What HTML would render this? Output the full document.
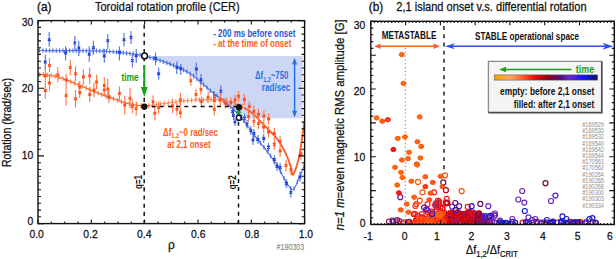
<!DOCTYPE html>
<html><head><meta charset="utf-8"><style>
html,body{margin:0;padding:0;background:#fff;width:616px;height:259px;overflow:hidden}
svg{display:block}
text{font-family:"Liberation Sans",sans-serif}
</style></head><body>
<svg fill="#111" width="616" height="259" viewBox="0 0 616 259">
<text transform="translate(37,11.4) scale(0.9,1)" font-size="13.2" stroke="#111" stroke-width="0.35">(a)</text>
<text transform="translate(95,11) scale(0.915,1)" font-size="12" stroke="#111" stroke-width="0.25">Toroidal rotation profile (CER)</text>
<polygon fill="#cdd7f5" points="144.50,56.00 302.50,56.00 302.50,118.30 241.80,118.30 241.40,117.99 239.56,115.89 237.69,113.84 235.83,111.87 234.00,110.00 232.19,108.24 230.39,106.58 228.59,104.99 226.80,103.46 225.00,101.97 223.20,100.50 221.41,99.10 219.64,97.78 217.86,96.51 216.07,95.22 214.26,93.87 212.40,92.40 210.48,90.78 208.50,89.03 206.49,87.22 204.48,85.40 202.51,83.64 200.60,82.00 198.80,80.47 197.10,79.00 195.44,77.59 193.74,76.23 191.95,74.90 190.00,73.60 187.89,72.33 185.66,71.10 183.34,69.90 180.94,68.74 178.49,67.60 176.00,66.50 173.44,65.42 170.80,64.36 168.09,63.34 165.37,62.35 162.66,61.40 160.00,60.50 157.38,59.64 154.76,58.81 152.16,58.03 149.57,57.30 147.02,56.62"/>
<path d="M38.00,50.50 L40.30,50.51 L43.41,50.52 L47.12,50.54 L51.26,50.56 L55.62,50.58 L60.00,50.60 L64.65,50.62 L69.78,50.64 L75.12,50.66 L80.44,50.69 L85.49,50.74 L90.00,50.80 L93.91,50.87 L97.41,50.95 L100.62,51.04 L103.70,51.15 L106.78,51.30 L110.00,51.50 L113.40,51.75 L116.87,52.05 L120.34,52.39 L123.74,52.75 L126.98,53.12 L130.00,53.50 L132.72,53.86 L135.20,54.22 L137.53,54.59 L139.80,55.00 L142.09,55.46 L144.50,56.00 L147.02,56.62 L149.57,57.30 L152.16,58.03 L154.76,58.81 L157.38,59.64 L160.00,60.50 L162.66,61.40 L165.37,62.35 L168.09,63.34 L170.80,64.36 L173.44,65.42 L176.00,66.50 L178.49,67.60 L180.94,68.74 L183.34,69.90 L185.66,71.10 L187.89,72.33 L190.00,73.60 L191.95,74.90 L193.74,76.23 L195.44,77.59 L197.10,79.00 L198.80,80.47 L200.60,82.00 L202.51,83.64 L204.48,85.40 L206.49,87.22 L208.50,89.03 L210.48,90.78 L212.40,92.40 L214.26,93.87 L216.07,95.22 L217.86,96.51 L219.64,97.78 L221.41,99.10 L223.20,100.50 L225.00,101.97 L226.80,103.46 L228.59,104.99 L230.39,106.58 L232.19,108.24 L234.00,110.00 L235.83,111.87 L237.69,113.84 L239.56,115.89 L241.40,117.99 L243.19,120.10 L244.90,122.20 L246.47,124.25 L247.89,126.26 L249.26,128.28 L250.68,130.38 L252.23,132.60 L254.00,135.00 L256.08,137.65 L258.41,140.52 L260.87,143.51 L263.35,146.54 L265.73,149.50 L267.90,152.30 L269.88,154.95 L271.75,157.54 L273.53,160.06 L275.21,162.52 L276.80,164.93 L278.30,167.30 L279.66,169.65 L280.87,171.99 L281.98,174.28 L283.06,176.49 L284.14,178.57 L285.30,180.50 L286.54,182.46 L287.81,184.53 L289.10,186.47 L290.38,188.08 L291.62,189.13 L292.80,189.40 L293.92,188.72 L294.99,187.24 L296.03,185.20 L297.03,182.85 L298.02,180.43 L299.00,178.20 L300.02,175.93 L301.09,173.37 L302.14,170.75 L303.10,168.29 L303.91,166.20 L304.50,164.70" fill="none" stroke="#5a7ae8" stroke-width="1.2"/><path d="M39.5,48.2V52.8M42.9,48.2V52.8M46.2,48.2V52.8M49.6,48.2V52.8M52.9,48.3V52.9M56.3,48.3V52.9M59.6,48.3V52.9M63,48.3V52.9M66.3,48.3V52.9M69.7,48.3V52.9M73,48.4V53M76.3,48.4V53M79.7,48.4V53M83,48.4V53M86.4,48.4V53M89.7,48.5V53.1M93.1,48.6V53.2M96.4,48.6V53.2M99.8,48.7V53.3M103.1,48.8V53.4M106.5,49V53.6M109.8,49.2V53.8M113.2,49.4V54M116.5,49.7V54.3M119.9,50V54.6M123.2,50.4V55M126.6,50.8V55.4M129.9,51.2V55.8M133.3,51.6V56.2M136.6,52.2V56.8M140,52.7V57.3M143.3,53.4V58M146.7,54.2V58.8M150,55.1V59.7M153.4,56.1V60.7M156.7,57.1V61.7M160.1,58.2V62.8M163.4,59.4V64M166.8,60.6V65.2M170.1,61.8V66.4M173.5,63.1V67.7M176.8,64.6V69.2M180.2,66.1V70.7M183.5,67.7V72.3M186.9,69.5V74.1M190.2,71.5V76.1M193.6,73.8V78.4M196.9,76.6V81.2M200.3,79.4V84M203.6,82.4V87M207,85.4V90M210.3,88.4V93M213.7,91.1V95.7M217,93.6V98.2M220.4,96V100.6M223.7,98.6V103.2M227.1,101.4V106M230.4,104.3V108.9M233.8,107.5V112.1M237.1,111V115.6M240.5,114.7V119.3M243.8,118.6V123.2M247.2,123V127.6M250.5,127.9V132.5M253.9,132.6V137.2M257.2,136.8V141.4M260.6,140.9V145.5M263.9,145V149.6M267.3,149.2V153.8M270.6,153.7V158.3M274,158.4V163M277.3,163.5V168.1M280.7,169.4V174M284,176.1V180.7M287.4,181.6V186.2M290.7,186.1V190.7M294.1,186.2V190.8M297.4,179.5V184.1M300.8,171.8V176.4M304.2,163.3V167.9" fill="none" stroke="#3a5ce0" stroke-width="1.1" opacity="0.85"/>
<path d="M38.00,74.30 L39.52,74.41 L41.63,74.53 L44.12,74.69 L46.81,74.90 L49.50,75.20 L52.00,75.60 L54.31,76.11 L56.59,76.70 L58.88,77.38 L61.19,78.12 L63.55,78.93 L66.00,79.80 L68.60,80.77 L71.33,81.84 L74.12,82.99 L76.89,84.14 L79.54,85.27 L82.00,86.30 L84.19,87.23 L86.15,88.10 L88.00,88.93 L89.85,89.76 L91.81,90.60 L94.00,91.50 L96.44,92.46 L99.04,93.46 L101.75,94.48 L104.52,95.51 L107.29,96.52 L110.00,97.50 L112.64,98.48 L115.26,99.47 L117.88,100.45 L120.52,101.39 L123.22,102.25 L126.00,103.00 L128.85,103.68 L131.74,104.33 L134.69,104.89 L137.70,105.35 L140.80,105.67 L144.00,105.80 L147.27,105.71 L150.59,105.41" fill="none" stroke="#ff6a32" stroke-width="1.4"/>
<path d="M150.59,105.41 L154.00,104.97 L157.52,104.44 L161.18,103.90 L165.00,103.40 L169.04,102.89 L173.30,102.33 L177.69,101.74 L182.15,101.17 L186.61,100.68 L191.00,100.30 L195.48,100.03 L200.15,99.83 L204.81,99.69 L209.30,99.63 L213.42,99.63 L217.00,99.70 L219.98,99.84 L222.49,100.07 L224.64,100.36 L226.54,100.71 L228.29,101.09 L230.00,101.50 L231.60,101.95 L233.00,102.47 L234.25,103.02 L235.41,103.59 L236.54,104.16 L237.70,104.70 L238.83,105.18 L239.87,105.60 L240.87,106.03 L241.91,106.50 L243.03,107.07 L244.30,107.80 L245.76,108.70" fill="none" stroke="#ff8a5c" stroke-width="1.0"/>
<path d="M244.30,107.80 L245.76,108.70 L247.37,109.73 L249.06,110.87 L250.78,112.08 L252.45,113.33 L254.00,114.60 L255.37,115.85 L256.60,117.09 L257.78,118.37 L259.00,119.76 L260.38,121.28 L262.00,123.00 L264.00,125.03 L266.32,127.36 L268.79,129.82 L271.23,132.29 L273.46,134.60 L275.30,136.60 L276.69,138.22 L277.76,139.56 L278.61,140.74 L279.37,141.89 L280.13,143.13 L281.00,144.60 L281.99,146.30 L283.02,148.13 L284.05,150.05 L285.06,152.03 L286.02,154.03 L286.90,156.00 L287.71,158.03 L288.47,160.16 L289.18,162.31 L289.84,164.39 L290.45,166.31 L291.00,168.00 L291.43,169.68 L291.74,171.46 L291.99,173.09 L292.27,174.31 L292.65,174.87 L293.20,174.50 L293.96,173.19 L294.88,171.13 L295.89,168.41 L296.96,165.09 L298.01,161.27 L299.00,157.00 L300.00,151.65 L301.06,145.04 L302.11,137.91 L303.09,131.02 L303.91,125.13 L304.50,121.00" fill="none" stroke="#ff5a22" stroke-width="1.8"/>
<path d="M39.50,72.01V76.81M43.40,72.24V77.04M47.30,72.56V77.36M51.20,73.07V77.87M55.10,73.91V78.71M59.00,75.02V79.82M62.90,76.31V81.11M66.80,77.70V82.50M70.70,79.19V83.99M74.60,80.79V85.59M78.50,82.43V87.23M82.40,84.07V88.87M86.30,85.77V90.57M90.20,87.51V92.31M94.10,89.14V93.94M98.00,90.66V95.46M101.90,92.14V96.94M105.80,93.58V98.38M109.70,94.99V99.79M113.60,96.44V101.24M117.50,97.91V102.71M121.40,99.27V104.07M125.30,100.41V105.21M129.20,101.36V106.16M133.10,102.19V106.99M137.00,102.84V107.64M140.90,103.27V108.07M144.80,103.38V108.18M148.70,103.18V107.98M152.60,102.75V107.55M156.50,102.20V107.00M160.40,101.62V106.42M164.30,101.09V105.89M168.20,100.60V105.40M172.10,100.09V104.89M176.00,99.56V104.36M179.90,99.06V103.86M183.80,98.59V103.39M187.70,98.19V102.99M191.60,97.86V102.66M195.50,97.63V102.43M199.40,97.46V102.26M203.30,97.34V102.14M207.20,97.26V102.06M211.10,97.23V102.03M215.00,97.26V102.06M218.90,97.39V102.19M222.80,97.71V102.51M226.70,98.34V103.14M230.60,99.27V104.07M234.50,100.74V105.54M238.40,102.60V107.40M242.30,104.30V109.10" fill="none" stroke="#ff7644" stroke-width="1.2" opacity="0.85"/>
<path d="M45.3,54.7V69.8M49.2,32V46.6M65.6,46.6V60.5M74.9,36V50M78.8,40.8V55.9M89.2,46.6V61.7M93.4,40.8V54.7M104.3,48.9V62.8M107.8,34V49M119.4,46.6V60.5M124,32.7V46.6M131,31V44M132.3,53.6V67.5M136.2,49V63M155.5,52.4V65M158.7,67.5V79.7M176.8,61.5V74M180.8,64V75M196.3,62.5V75.5M201,74V85M214.4,92V101M220.8,85.5V96M232.5,107V116M233.5,111V120M235,118V126M253,135V145M244.6,114V122.5M247,120V128.5M250.8,126V135M254,129V138M258,135V144M263.7,134V143M268.5,143V151.5M274.3,155V164.5M280.1,163V172M286.2,179V188M290.9,188V197.5M300,172V182M277,162V171" stroke="#4f6fe6" stroke-width="1.1" fill="none"/>
<path d="M43.9,60.6L46.6,63.4M43.9,63.4L46.6,60.6M47.9,38.4L50.6,41.1M47.9,41.1L50.6,38.4M64.2,51.5L66.9,54.2M64.2,54.2L66.9,51.5M73.6,41.6L76.2,44.4M73.6,44.4L76.2,41.6M77.5,46.6L80.1,49.4M77.5,49.4L80.1,46.6M87.9,52.9L90.5,55.6M87.9,55.6L90.5,52.9M92.1,46.4L94.8,49.1M92.1,49.1L94.8,46.4M103,54.5L105.6,57.2M103,57.2L105.6,54.5M106.5,39.4L109.1,42.1M106.5,42.1L109.1,39.4M118.1,51L120.8,53.8M118.1,53.8L120.8,51M122.7,38.4L125.3,41.1M122.7,41.1L125.3,38.4M129.7,36L132.3,38.8M129.7,38.8L132.3,36M131,59.1L133.7,61.9M131,61.9L133.7,59.1M134.8,54.5L137.5,57.2M134.8,57.2L137.5,54.5M154.2,56.9L156.8,59.6M154.2,59.6L156.8,56.9M157.3,72.4L160,75M157.3,75L160,72.4M175.5,66.2L178.2,68.8M175.5,68.8L178.2,66.2M179.5,67.2L182.2,69.9M179.5,69.9L182.2,67.2M195,67.7L197.7,70.3M195,70.3L197.7,67.7M199.7,78.4L202.3,81M199.7,81L202.3,78.4M213.1,95.2L215.8,97.8M213.1,97.8L215.8,95.2M219.5,89.9L222.2,92.5M219.5,92.5L222.2,89.9M231.2,110.1L233.8,112.8M231.2,112.8L233.8,110.1M232.2,114.2L234.8,116.9M232.2,116.9L234.8,114.2M233.7,120.7L236.3,123.3M233.7,123.3L236.3,120.7M251.7,138.7L254.3,141.3M251.7,141.3L254.3,138.7M243.2,116.9L245.9,119.5M243.2,119.5L245.9,116.9M245.7,123L248.3,125.6M245.7,125.6L248.3,123M249.5,129.2L252.2,131.8M249.5,131.8L252.2,129.2M252.7,132.2L255.3,134.9M252.7,134.9L255.3,132.2M256.6,138.2L259.4,140.8M256.6,140.8L259.4,138.2M262.3,137.2L265.1,139.8M262.3,139.8L265.1,137.2M267.1,145.8L269.9,148.5M267.1,148.5L269.9,145.8M272.9,158.3L275.7,161M272.9,161L275.7,158.3M278.8,166.2L281.5,168.8M278.8,168.8L281.5,166.2M284.8,182L287.6,184.7M284.8,184.7L287.6,182M289.5,191.2L292.2,193.9M289.5,193.9L292.2,191.2M298.6,175.7L301.4,178.3M298.6,178.3L301.4,175.7M275.6,165L278.4,167.7M275.6,167.7L278.4,165" stroke="#1f3edc" stroke-width="1.3" fill="none"/>
<path d="M45.3,69.6V82M45.3,82.2V98.6M49.5,58.2V72.6M49.5,75.3V90.7M57.8,67.1V82.5M66.1,73.8V86.2M66.1,85.4V105.8M70.3,59.8V75.2M75.5,66.3V81.1M75.5,90V107.4M79.7,81V93.4M79.7,87.3V97.7M83.4,69.4V84.2M89.7,67.6V84M89.7,87.1V101.9M94,82.8V97.2M96.6,74.8V89.2M104.3,77.3V93.7M104.3,83.8V96.2M109,90.8V103.2M107.8,78.8V99.2M119.4,86.4V100.8M124.7,95.8V114.2M130,88V108.4M132.3,99.1V113.5M136.2,101.4V115.8M153,95.5V107.9M154.8,106V120.4M158.7,101.3V113.7M244.3,93.9V105.3M249.3,100.9V112.3M253.9,105.5V116.9M258.5,108.6V120M263.9,110.2V121.6M268.6,113.3V124.7M248.5,110.9V122.3M253.9,115.6V127M258.5,117.9V129.3M172.6,98.8V113.2M176.9,103.1V115.5M180.4,93.1V106.5M180.4,107.6V118M190.8,75.5V85.9M196,88.9V100.3M200.9,84.2V94.6M201.3,96.3V106.7M208.2,91.5V102.9M214.3,94.4V106.8M214.3,103.1V115.5M220.3,93.1V106.5M225.2,98.1V108.5M230.8,97.2V107.6M235.1,94.6V105M238.6,91.1V101.5M263.7,121.3V132.7M268.5,126.1V137.5M274.3,128V139.4M274.3,138.6V150M280.1,135.7V147.1M280.1,145.3V156.7M286,159.8V171.2M290.9,163.7V175.1M301,148.3V159.7" stroke="#ff7442" stroke-width="1.1" fill="none"/>
<path d="M43.9,74.5L46.6,77.1M43.9,77.1L46.6,74.5M43.9,89.1L46.6,91.8M43.9,91.8L46.6,89.1M48.1,64.1L50.9,66.8M48.1,66.8L50.9,64.1M48.1,81.7L50.9,84.3M48.1,84.3L50.9,81.7M56.4,73.5L59.1,76.1M56.4,76.1L59.1,73.5M64.8,78.7L67.4,81.3M64.8,81.3L67.4,78.7M64.8,94.2L67.4,96.9M64.8,96.9L67.4,94.2M69,66.2L71.6,68.8M69,68.8L71.6,66.2M74.2,72.4L76.8,75M74.2,75L76.8,72.4M74.2,97.4L76.8,100M74.2,100L76.8,97.4M78.4,85.9L81,88.5M78.4,88.5L81,85.9M78.4,91.2L81,93.8M78.4,93.8L81,91.2M82.1,75.5L84.8,78.1M82.1,78.1L84.8,75.5M88.4,74.5L91,77.1M88.4,77.1L91,74.5M88.4,93.2L91,95.8M88.4,95.8L91,93.2M92.7,88.7L95.3,91.3M92.7,91.3L95.3,88.7M95.2,80.7L97.9,83.3M95.2,83.3L97.9,80.7M103,84.2L105.6,86.8M103,86.8L105.6,84.2M103,88.7L105.6,91.3M103,91.3L105.6,88.7M107.7,95.7L110.3,98.3M107.7,98.3L110.3,95.7M106.5,87.7L109.1,90.3M106.5,90.3L109.1,87.7M118.1,92.2L120.8,94.9M118.1,94.9L120.8,92.2M123.4,103.7L126,106.3M123.4,106.3L126,103.7M128.7,96.9L131.3,99.5M128.7,99.5L131.3,96.9M131,105L133.7,107.6M131,107.6L133.7,105M134.8,107.2L137.5,109.9M134.8,109.9L137.5,107.2M151.7,100.4L154.3,103M151.7,103L154.3,100.4M153.5,111.9L156.2,114.5M153.5,114.5L156.2,111.9M157.3,106.2L160,108.8M157.3,108.8L160,106.2M243,98.2L245.7,100.9M243,100.9L245.7,98.2M248,105.2L250.7,107.9M248,107.9L250.7,105.2M252.6,109.9L255.2,112.5M252.6,112.5L255.2,109.9M257.1,113L259.9,115.6M257.1,115.6L259.9,113M262.5,114.6L265.2,117.2M262.5,117.2L265.2,114.6M267.2,117.7L270,120.3M267.2,120.3L270,117.7M247.2,115.2L249.8,117.9M247.2,117.9L249.8,115.2M252.6,120L255.2,122.6M252.6,122.6L255.2,120M257.1,122.2L259.9,124.9M257.1,124.9L259.9,122.2M171.2,104.7L173.9,107.3M171.2,107.3L173.9,104.7M175.6,108L178.2,110.6M175.6,110.6L178.2,108M179.1,98.5L181.8,101.1M179.1,101.1L181.8,98.5M179.1,111.5L181.8,114.1M179.1,114.1L181.8,111.5M189.5,79.4L192.2,82M189.5,82L192.2,79.4M194.7,93.2L197.3,95.9M194.7,95.9L197.3,93.2M199.6,88.1L202.2,90.8M199.6,90.8L202.2,88.1M200,100.2L202.7,102.8M200,102.8L202.7,100.2M206.8,95.9L209.5,98.5M206.8,98.5L209.5,95.9M213,99.2L215.7,101.9M213,101.9L215.7,99.2M213,108L215.7,110.6M213,110.6L215.7,108M219,98.5L221.7,101.1M219,101.1L221.7,98.5M223.8,102L226.5,104.6M223.8,104.6L226.5,102M229.5,101.1L232.2,103.8M229.5,103.8L232.2,101.1M233.8,98.5L236.4,101.1M233.8,101.1L236.4,98.5M237.2,95L239.9,97.6M237.2,97.6L239.9,95M262.3,125.7L265.1,128.3M262.3,128.3L265.1,125.7M267.1,130.5L269.9,133.2M267.1,133.2L269.9,130.5M272.9,132.3L275.7,135M272.9,135L275.7,132.3M272.9,143L275.7,145.7M272.9,145.7L275.7,143M278.8,140.1L281.5,142.8M278.8,142.8L281.5,140.1M278.8,149.7L281.5,152.3M278.8,152.3L281.5,149.7M284.6,164.2L287.4,166.8M284.6,166.8L287.4,164.2M289.5,168.1L292.2,170.8M289.5,170.8L292.2,168.1M299.6,152.7L302.4,155.3M299.6,155.3L302.4,152.7" stroke="#ff4a12" stroke-width="1.3" fill="none"/>
<path d="M144.2,20.7V223" stroke="#111" stroke-width="1.5" stroke-dasharray="4.1 4.04" stroke-dashoffset="4.28" fill="none"/>
<path d="M238.5,121.76V223" stroke="#111" stroke-width="1.5" stroke-dasharray="4 4.17" fill="none"/>
<path d="M151.6,106.5H236" stroke="#111" stroke-width="1.5" stroke-dasharray="4 4.17" fill="none"/>
<path d="M144.3,65V89" stroke="#16a316" stroke-width="2" fill="none"/>
<path d="M140.9,87L147.7,87L144.3,97Z" fill="#16a316"/>
<path d="M238.9,115.5V110" stroke="#16a316" stroke-width="1.7" fill="none"/>
<path d="M236.4,113L241.4,113L238.9,108Z" fill="#16a316"/>
<text transform="translate(121.4,80.6) scale(0.77,1)" font-size="11" font-weight="700" fill="#16a316">time</text>
<circle cx="144.6" cy="55.9" r="2.9" fill="#fff" stroke="#111" stroke-width="1.5"/>
<circle cx="144.3" cy="106.6" r="3.2" fill="#111"/>
<circle cx="238.9" cy="107.3" r="3.2" fill="#111"/>
<circle cx="239.0" cy="117.7" r="2.6" fill="none" stroke="#111" stroke-width="1.5"/>
<path d="M294.6,62V113" stroke="#1f72e6" stroke-width="1.5" fill="none"/>
<path d="M292.1,64.5L297.1,64.5L294.6,57.8Z" fill="#1f72e6"/>
<path d="M292.1,110.8L297.1,110.8L294.6,117.5Z" fill="#1f72e6"/>
<text transform="translate(213.2,36.9) scale(0.8,1)" font-size="10" font-weight="700" fill="#2d52dc">- 200 ms before onset</text>
<text transform="translate(213.2,46.8) scale(0.8,1)" font-size="10" font-weight="700" fill="#ff5c22">- at the time of onset</text>
<text transform="translate(288.3,79) scale(0.74,1)" font-size="10.5" font-weight="700" fill="#1f72e6" text-anchor="end">Δf<tspan font-size="7.5" dy="2.5">1,2</tspan><tspan dy="-2.5">~750</tspan></text>
<text transform="translate(290.2,90.6) scale(0.79,1)" font-size="10.3" font-weight="700" fill="#1f72e6" text-anchor="end">rad/sec</text>
<text transform="translate(163,135.5) scale(0.79,1)" font-size="10" font-weight="700" fill="#ff5c22">Δf<tspan font-size="7" dy="2">1,2</tspan><tspan dy="-2">~0 rad/sec</tspan></text>
<text transform="translate(167.3,148) scale(0.79,1)" font-size="10" font-weight="700" fill="#ff5c22">at 2,1 onset</text>
<text transform="translate(141.9,189) rotate(-90) scale(0.7,1)" font-size="11.5" font-weight="700">q=1</text>
<text transform="translate(236.1,189.3) rotate(-90) scale(0.7,1)" font-size="11.5" font-weight="700">q=2</text>
<text transform="translate(276.6,249.9) scale(0.75,1)" font-size="9.5" fill="#707070">#190303</text>
<rect x="38.0" y="20.6" width="266.6" height="203.0" fill="none" stroke="#111" stroke-width="1.4"/>
<path d="M38,223.6h6M304.6,223.6h-6M38,216.8h3M304.6,216.8h-3M38,210.1h3M304.6,210.1h-3M38,203.3h3M304.6,203.3h-3M38,196.5h3M304.6,196.5h-3M38,189.8h3M304.6,189.8h-3M38,183h3M304.6,183h-3M38,176.2h3M304.6,176.2h-3M38,169.5h3M304.6,169.5h-3M38,162.7h3M304.6,162.7h-3M38,155.9h6M304.6,155.9h-6M38,149.2h3M304.6,149.2h-3M38,142.4h3M304.6,142.4h-3M38,135.6h3M304.6,135.6h-3M38,128.9h3M304.6,128.9h-3M38,122.1h3M304.6,122.1h-3M38,115.3h3M304.6,115.3h-3M38,108.6h3M304.6,108.6h-3M38,101.8h3M304.6,101.8h-3M38,95h3M304.6,95h-3M38,88.3h6M304.6,88.3h-6M38,81.5h3M304.6,81.5h-3M38,74.7h3M304.6,74.7h-3M38,68h3M304.6,68h-3M38,61.2h3M304.6,61.2h-3M38,54.4h3M304.6,54.4h-3M38,47.7h3M304.6,47.7h-3M38,40.9h3M304.6,40.9h-3M38,34.1h3M304.6,34.1h-3M38,27.4h3M304.6,27.4h-3M38,20.6h6M304.6,20.6h-6M38,223.6v-4M38,20.6v4M51.3,223.6v-2M51.3,20.6v2M64.7,223.6v-2M64.7,20.6v2M78,223.6v-2M78,20.6v2M91.3,223.6v-4M91.3,20.6v4M104.7,223.6v-2M104.7,20.6v2M118,223.6v-2M118,20.6v2M131.3,223.6v-2M131.3,20.6v2M144.6,223.6v-4M144.6,20.6v4M158,223.6v-2M158,20.6v2M171.3,223.6v-2M171.3,20.6v2M184.6,223.6v-2M184.6,20.6v2M198,223.6v-4M198,20.6v4M211.3,223.6v-2M211.3,20.6v2M224.6,223.6v-2M224.6,20.6v2M238,223.6v-2M238,20.6v2M251.3,223.6v-4M251.3,20.6v4M264.6,223.6v-2M264.6,20.6v2M277.9,223.6v-2M277.9,20.6v2M291.3,223.6v-2M291.3,20.6v2M304.6,223.6v-4M304.6,20.6v4" stroke="#111" stroke-width="1.1" fill="none"/>
<text transform="translate(33.3,224.6) scale(0.92,1)" font-size="11.3" text-anchor="end" stroke="#111" stroke-width="0.25">0</text>
<text transform="translate(33.3,158.5) scale(0.92,1)" font-size="11.3" text-anchor="end" stroke="#111" stroke-width="0.25">10</text>
<text transform="translate(33.3,92.4) scale(0.92,1)" font-size="11.3" text-anchor="end" stroke="#111" stroke-width="0.25">20</text>
<text transform="translate(33.3,26.3) scale(0.92,1)" font-size="11.3" text-anchor="end" stroke="#111" stroke-width="0.25">30</text>
<text transform="translate(36.6,238.3) scale(0.92,1)" font-size="11.3" text-anchor="middle" stroke="#111" stroke-width="0.25">0.0</text>
<text transform="translate(90.5,238.3) scale(0.92,1)" font-size="11.3" text-anchor="middle" stroke="#111" stroke-width="0.25">0.2</text>
<text transform="translate(144.3,238.3) scale(0.92,1)" font-size="11.3" text-anchor="middle" stroke="#111" stroke-width="0.25">0.4</text>
<text transform="translate(198.2,238.3) scale(0.92,1)" font-size="11.3" text-anchor="middle" stroke="#111" stroke-width="0.25">0.6</text>
<text transform="translate(252,238.3) scale(0.92,1)" font-size="11.3" text-anchor="middle" stroke="#111" stroke-width="0.25">0.8</text>
<text transform="translate(305.9,238.3) scale(0.92,1)" font-size="11.3" text-anchor="middle" stroke="#111" stroke-width="0.25">1.0</text>
<text transform="translate(171.4,249.2)" font-size="12" text-anchor="middle" stroke="#111" stroke-width="0.25">ρ</text>
<text transform="translate(11.3,122.5) rotate(-90) scale(0.865,1)" font-size="12.2" text-anchor="middle" stroke="#111" stroke-width="0.25">Rotation (krad/sec)</text>
<text transform="translate(368.8,11.4) scale(0.9,1)" font-size="13.2" stroke="#111" stroke-width="0.35">(b)</text>
<text transform="translate(396.3,11) scale(0.92,1)" font-size="12" stroke="#111" stroke-width="0.25">2,1 island onset v.s. differential rotation</text>
<path d="M405.3,48V223" stroke="#7d8aa0" stroke-width="1.1" stroke-dasharray="1.2 2.6" fill="none"/>
<path d="M444,21.5V172" stroke="#3a3a3a" stroke-width="1.7" stroke-dasharray="3.9 4.29" stroke-dashoffset="3.59" fill="none"/>
<path d="M378,46.2H436" stroke="#ff5c22" stroke-width="1.4" fill="none"/>
<path d="M374.3,46.2L380.5,43.4L380.5,49Z" fill="#ff5c22"/>
<path d="M439.8,46.2L433.6,43.4L433.6,49Z" fill="#ff5c22"/>
<path d="M450,46.3H608" stroke="#2d4ff0" stroke-width="1.4" fill="none"/>
<path d="M445,46.3L455,43.3L452,46.3L455,49.3Z" fill="#2d4ff0"/>
<path d="M613.2,46.3L602.5,42.8L605.5,46.3L602.5,49.8Z" fill="#2d4ff0"/>
<text transform="translate(381.7,39) scale(0.82,1)" font-size="10" font-weight="700">METASTABLE</text>
<text transform="translate(475.1,39.9) scale(0.82,1)" font-size="10" font-weight="700">STABLE operational space</text>
<defs><linearGradient id="gr" x1="0" x2="1" y1="0" y2="0"><stop offset="0" stop-color="#f5a000"/><stop offset="0.15" stop-color="#ffa860"/><stop offset="0.3" stop-color="#ff5020"/><stop offset="0.38" stop-color="#f80808"/><stop offset="0.52" stop-color="#900018"/><stop offset="0.65" stop-color="#50108a"/><stop offset="0.73" stop-color="#6a28c8"/><stop offset="0.86" stop-color="#1414ff"/><stop offset="1" stop-color="#12126a"/></linearGradient></defs>
<rect x="487.8" y="60.7" width="114.2" height="52" fill="#f4f4f4"/>
<path d="M488.4,113V61.3H601.4" fill="none" stroke="#8c8c8c" stroke-width="1.3"/>
<path d="M488.4,112.6H601.8V61.3" fill="none" stroke="#4c4c4c" stroke-width="1.7"/>
<path d="M504,69.5H571.5" stroke="#16a316" stroke-width="1.4" fill="none"/>
<path d="M499,69.5L506,66.8L506,72.2Z" fill="#16a316"/>
<text transform="translate(594.2,73) scale(0.82,1)" font-size="11" font-weight="700" fill="#16a316" text-anchor="end">time</text>
<rect x="494.3" y="74.9" width="103.3" height="5.2" fill="url(#gr)" stroke="#555" stroke-width="0.5"/>
<text transform="translate(594.2,95.4) scale(0.84,1)" font-size="10" font-weight="700" text-anchor="end">empty: before 2,1 onset</text>
<text transform="translate(594.2,107.6) scale(0.83,1)" font-size="10" font-weight="700" text-anchor="end">filled: after 2,1 onset</text>
<text transform="translate(604,126.9) scale(0.77,1)" font-size="7.3" fill="#8c8c8c" text-anchor="end">#169529</text>
<text transform="translate(604,133.1) scale(0.77,1)" font-size="7.3" fill="#8c8c8c" text-anchor="end">#169530</text>
<text transform="translate(604,139.3) scale(0.77,1)" font-size="7.3" fill="#8c8c8c" text-anchor="end">#169532</text>
<text transform="translate(604,145.5) scale(0.77,1)" font-size="7.3" fill="#8c8c8c" text-anchor="end">#169540</text>
<text transform="translate(604,151.7) scale(0.77,1)" font-size="7.3" fill="#8c8c8c" text-anchor="end">#169542</text>
<text transform="translate(604,157.9) scale(0.77,1)" font-size="7.3" fill="#8c8c8c" text-anchor="end">#169544</text>
<text transform="translate(604,164.1) scale(0.77,1)" font-size="7.3" fill="#8c8c8c" text-anchor="end">#170561</text>
<text transform="translate(604,170.3) scale(0.77,1)" font-size="7.3" fill="#8c8c8c" text-anchor="end">#170562</text>
<text transform="translate(604,176.5) scale(0.77,1)" font-size="7.3" fill="#8c8c8c" text-anchor="end">#190264</text>
<text transform="translate(604,182.7) scale(0.77,1)" font-size="7.3" fill="#8c8c8c" text-anchor="end">#190265</text>
<text transform="translate(604,188.9) scale(0.77,1)" font-size="7.3" fill="#8c8c8c" text-anchor="end">#190268</text>
<text transform="translate(604,195.1) scale(0.77,1)" font-size="7.3" fill="#8c8c8c" text-anchor="end">#190300</text>
<text transform="translate(604,201.3) scale(0.77,1)" font-size="7.3" fill="#8c8c8c" text-anchor="end">#190303</text>
<text transform="translate(604,207.5) scale(0.77,1)" font-size="7.3" fill="#8c8c8c" text-anchor="end">#190334</text>
<g clip-path="url(#clipb)"><circle cx="434.9" cy="220" r="2.5" fill="none" stroke="#f82711" stroke-width="1.2"/><circle cx="442.9" cy="214.4" r="2.5" fill="none" stroke="#f2170f" stroke-width="1.2"/><circle cx="417.2" cy="218.6" r="2.5" fill="none" stroke="#f72611" stroke-width="1.2"/><circle cx="438.8" cy="202.9" r="2.5" fill="none" stroke="#f62111" stroke-width="1.2"/><circle cx="446.5" cy="203.3" r="2.5" fill="none" stroke="#f41b10" stroke-width="1.2"/><circle cx="470.1" cy="223.7" r="2.5" fill="none" stroke="#661993" stroke-width="1.2"/><circle cx="426" cy="221.7" r="2.5" fill="none" stroke="#ec0e0f" stroke-width="1.2"/><circle cx="428.1" cy="212.8" r="2.5" fill="none" stroke="#f41c10" stroke-width="1.2"/><circle cx="443.3" cy="222.2" r="2.5" fill="none" stroke="#f62211" stroke-width="1.2"/><circle cx="448.8" cy="214.6" r="2.5" fill="none" stroke="#f1140f" stroke-width="1.2"/><circle cx="439.9" cy="215.4" r="2.5" fill="none" stroke="#f0100f" stroke-width="1.2"/><circle cx="431.4" cy="211.7" r="2.5" fill="none" stroke="#e90d10" stroke-width="1.2"/><circle cx="451.2" cy="218" r="2.5" fill="none" stroke="#640b69" stroke-width="1.2"/><circle cx="438.6" cy="204.6" r="2.5" fill="none" stroke="#f31810" stroke-width="1.2"/><circle cx="417.4" cy="215.9" r="2.5" fill="none" stroke="#f2150f" stroke-width="1.2"/><circle cx="459.8" cy="219.4" r="2.5" fill="none" stroke="#f1140f" stroke-width="1.2"/><circle cx="444.6" cy="212.8" r="2.5" fill="none" stroke="#e60d10" stroke-width="1.2"/><circle cx="440.6" cy="206.5" r="2.5" fill="none" stroke="#f0100f" stroke-width="1.2"/><circle cx="447.4" cy="202.9" r="2.5" fill="none" stroke="#f51f10" stroke-width="1.2"/><circle cx="437.4" cy="207.2" r="2.5" fill="none" stroke="#f31910" stroke-width="1.2"/><circle cx="427.4" cy="221.6" r="2.5" fill="none" stroke="#ef0e0f" stroke-width="1.2"/><circle cx="425" cy="219.4" r="2.5" fill="none" stroke="#e90d10" stroke-width="1.2"/><circle cx="421.4" cy="217.1" r="2.5" fill="none" stroke="#e90d10" stroke-width="1.2"/><circle cx="456.1" cy="210.1" r="2.5" fill="none" stroke="#f41b10" stroke-width="1.2"/><circle cx="436.3" cy="203" r="2.5" fill="none" stroke="#640e71" stroke-width="1.2"/><circle cx="427.9" cy="219.2" r="2.5" fill="none" stroke="#f31810" stroke-width="1.2"/><circle cx="444.9" cy="217.3" r="2.5" fill="none" stroke="#f31a10" stroke-width="1.2"/><circle cx="436.8" cy="209.8" r="2.5" fill="none" stroke="#3c22de" stroke-width="1.2"/><circle cx="442.1" cy="208.2" r="2.5" fill="none" stroke="#f82811" stroke-width="1.2"/><circle cx="461.7" cy="214.1" r="2.5" fill="none" stroke="#271fee" stroke-width="1.2"/><circle cx="437.6" cy="213.5" r="2.5" fill="none" stroke="#f1130f" stroke-width="1.2"/><circle cx="419.8" cy="223" r="2.5" fill="none" stroke="#f72411" stroke-width="1.2"/><circle cx="435.6" cy="222.6" r="2.5" fill="none" stroke="#f72411" stroke-width="1.2"/><circle cx="423.1" cy="218" r="2.5" fill="none" stroke="#e90d10" stroke-width="1.2"/><circle cx="446" cy="220.2" r="2.5" fill="none" stroke="#f41d10" stroke-width="1.2"/><circle cx="436.6" cy="220.6" r="2.5" fill="none" stroke="#e30c11" stroke-width="1.2"/><circle cx="440.3" cy="210.8" r="2.5" fill="none" stroke="#f72611" stroke-width="1.2"/><circle cx="435.7" cy="217.1" r="2.5" fill="none" stroke="#f72411" stroke-width="1.2"/><circle cx="415.2" cy="214.1" r="2.5" fill="none" stroke="#f72411" stroke-width="1.2"/><circle cx="443.1" cy="223.3" r="2.5" fill="none" stroke="#e40c11" stroke-width="1.2"/><circle cx="458.9" cy="213.9" r="2.5" fill="none" stroke="#f41c10" stroke-width="1.2"/><circle cx="427.3" cy="209.8" r="2.5" fill="none" stroke="#ee0e0f" stroke-width="1.2"/><circle cx="435.2" cy="218.2" r="2.5" fill="none" stroke="#e40c11" stroke-width="1.2"/><circle cx="458.2" cy="212.1" r="2.5" fill="none" stroke="#f00f0f" stroke-width="1.2"/><circle cx="430.5" cy="213.1" r="2.5" fill="none" stroke="#f82811" stroke-width="1.2"/><circle cx="415.9" cy="220.7" r="2.5" fill="none" stroke="#f0110f" stroke-width="1.2"/><circle cx="467.2" cy="219.8" r="2.5" fill="none" stroke="#1c1cc8" stroke-width="1.2"/><circle cx="467.1" cy="220.5" r="2.5" fill="none" stroke="#f62111" stroke-width="1.2"/><circle cx="429" cy="219.6" r="2.5" fill="none" stroke="#e80d10" stroke-width="1.2"/><circle cx="457.4" cy="216.3" r="2.5" fill="none" stroke="#ed0e0f" stroke-width="1.2"/><circle cx="421.8" cy="214.1" r="2.5" fill="none" stroke="#ee0e0f" stroke-width="1.2"/><circle cx="452.2" cy="214.7" r="2.5" fill="none" stroke="#ee0e0f" stroke-width="1.2"/><circle cx="435.3" cy="205.3" r="2.5" fill="none" stroke="#6822ac" stroke-width="1.2"/><circle cx="438" cy="200.6" r="2.5" fill="none" stroke="#f62311" stroke-width="1.2"/><circle cx="424.9" cy="221.2" r="2.5" fill="none" stroke="#ed0e0f" stroke-width="1.2"/><circle cx="426.1" cy="209.6" r="2.5" fill="none" stroke="#4322d9" stroke-width="1.2"/><circle cx="436" cy="210.5" r="2.5" fill="none" stroke="#f82911" stroke-width="1.2"/><circle cx="469.2" cy="218.8" r="2.5" fill="none" stroke="#e60d10" stroke-width="1.2"/><circle cx="439.2" cy="201.7" r="2.5" fill="none" stroke="#f62211" stroke-width="1.2"/><circle cx="431.8" cy="217.3" r="2.5" fill="none" stroke="#f1140f" stroke-width="1.2"/><circle cx="479.3" cy="221.8" r="2.5" fill="none" stroke="#6826ba" stroke-width="1.2"/><circle cx="481" cy="221.4" r="2.5" fill="none" stroke="#6826ba" stroke-width="1.2"/><circle cx="482.3" cy="216.3" r="2.5" fill="none" stroke="#66178d" stroke-width="1.2"/><circle cx="484.4" cy="224.2" r="2.5" fill="none" stroke="#640963" stroke-width="1.2"/><circle cx="472.9" cy="217.8" r="2.5" fill="none" stroke="#651586" stroke-width="1.2"/><circle cx="489.4" cy="220.5" r="2.5" fill="none" stroke="#66178b" stroke-width="1.2"/><circle cx="485.1" cy="217.9" r="2.5" fill="none" stroke="#661890" stroke-width="1.2"/><circle cx="479.1" cy="222.9" r="2.5" fill="none" stroke="#1c1ccd" stroke-width="1.2"/><circle cx="485.2" cy="218.2" r="2.5" fill="none" stroke="#1c1cd5" stroke-width="1.2"/><circle cx="486.4" cy="221" r="2.5" fill="none" stroke="#671ea0" stroke-width="1.2"/><circle cx="482.9" cy="220.7" r="2.5" fill="none" stroke="#6827be" stroke-width="1.2"/><circle cx="488.6" cy="216.8" r="2.5" fill="none" stroke="#1d1dea" stroke-width="1.2"/><circle cx="485.2" cy="216" r="2.5" fill="none" stroke="#201ef3" stroke-width="1.2"/><circle cx="476.9" cy="221.6" r="2.5" fill="none" stroke="#640c6a" stroke-width="1.2"/><circle cx="475.8" cy="219.3" r="2.5" fill="none" stroke="#1a1aa0" stroke-width="1.2"/><circle cx="477.5" cy="218.7" r="2.5" fill="none" stroke="#68095f" stroke-width="1.2"/><circle cx="494.8" cy="215.6" r="2.5" fill="none" stroke="#6727bf" stroke-width="1.2"/><circle cx="481.8" cy="221.1" r="2.5" fill="none" stroke="#1a1aa8" stroke-width="1.2"/><circle cx="477.7" cy="221.6" r="2.5" fill="none" stroke="#651076" stroke-width="1.2"/><circle cx="478.2" cy="222.6" r="2.5" fill="none" stroke="#730752" stroke-width="1.2"/><circle cx="485.1" cy="221.6" r="2.5" fill="none" stroke="#640f75" stroke-width="1.2"/><circle cx="486.7" cy="220.9" r="2.5" fill="none" stroke="#6427c1" stroke-width="1.2"/><circle cx="491.3" cy="215.6" r="2.5" fill="none" stroke="#640d6d" stroke-width="1.2"/><circle cx="474.8" cy="218" r="2.5" fill="none" stroke="#69095e" stroke-width="1.2"/><circle cx="482.3" cy="216.4" r="2.5" fill="none" stroke="#1d1dea" stroke-width="1.2"/><circle cx="477.4" cy="216.3" r="2.5" fill="none" stroke="#671ea1" stroke-width="1.2"/><circle cx="476.2" cy="224.1" r="2.5" fill="none" stroke="#651380" stroke-width="1.2"/><circle cx="475.8" cy="216" r="2.5" fill="none" stroke="#6822ad" stroke-width="1.2"/><circle cx="476.1" cy="217.1" r="2.5" fill="none" stroke="#6825b5" stroke-width="1.2"/><circle cx="482.9" cy="222.4" r="2.5" fill="none" stroke="#6827bc" stroke-width="1.2"/><circle cx="479.5" cy="223.8" r="2.5" fill="none" stroke="#640c6a" stroke-width="1.2"/><circle cx="476.7" cy="223.6" r="2.5" fill="none" stroke="#640a65" stroke-width="1.2"/><circle cx="480.2" cy="222.7" r="2.5" fill="none" stroke="#1d1de6" stroke-width="1.2"/><circle cx="483.9" cy="223.5" r="2.5" fill="none" stroke="#740752" stroke-width="1.2"/><circle cx="479.2" cy="224.2" r="2.5" fill="none" stroke="#66188f" stroke-width="1.2"/><circle cx="478.1" cy="221.3" r="2.5" fill="none" stroke="#221ef1" stroke-width="1.2"/><circle cx="492.3" cy="221.6" r="2.5" fill="none" stroke="#6823b1" stroke-width="1.2"/><circle cx="481.7" cy="221" r="2.5" fill="none" stroke="#6427c1" stroke-width="1.2"/><circle cx="480.8" cy="217.4" r="2.5" fill="none" stroke="#661b99" stroke-width="1.2"/><circle cx="482" cy="222.4" r="2.5" fill="none" stroke="#69095e" stroke-width="1.2"/><circle cx="475.7" cy="218.5" r="2.5" fill="none" stroke="#660961" stroke-width="1.2"/><circle cx="476.1" cy="217.3" r="2.5" fill="none" stroke="#1b1bba" stroke-width="1.2"/><circle cx="479.7" cy="223.1" r="2.5" fill="none" stroke="#651484" stroke-width="1.2"/><circle cx="477.6" cy="221.5" r="2.5" fill="none" stroke="#6627bf" stroke-width="1.2"/><circle cx="500.1" cy="220.6" r="2.5" fill="none" stroke="#6627c0" stroke-width="1.2"/><circle cx="454.5" cy="221.4" r="2.5" fill="none" stroke="#c60617" stroke-width="1.2"/><circle cx="460.6" cy="219.6" r="2.5" fill="none" stroke="#bd0419" stroke-width="1.2"/><circle cx="443.2" cy="222.3" r="2.5" fill="none" stroke="#c50617" stroke-width="1.2"/><circle cx="444.5" cy="224.1" r="2.5" fill="none" stroke="#d20914" stroke-width="1.2"/><circle cx="464.7" cy="219.3" r="2.5" fill="none" stroke="#b2021b" stroke-width="1.2"/><circle cx="469.5" cy="214.2" r="2.5" fill="none" stroke="#cb0716" stroke-width="1.2"/><circle cx="479.4" cy="223.4" r="2.5" fill="none" stroke="#b3021b" stroke-width="1.2"/><circle cx="444.6" cy="214.9" r="2.5" fill="none" stroke="#b4031a" stroke-width="1.2"/><circle cx="470.2" cy="215.2" r="2.5" fill="none" stroke="#bc0419" stroke-width="1.2"/><circle cx="461.7" cy="214.9" r="2.5" fill="none" stroke="#a5001d" stroke-width="1.2"/><circle cx="464.6" cy="214" r="2.5" fill="none" stroke="#af021b" stroke-width="1.2"/><circle cx="451.5" cy="224.1" r="2.5" fill="none" stroke="#c80716" stroke-width="1.2"/><circle cx="446.9" cy="214.9" r="2.5" fill="none" stroke="#b4031a" stroke-width="1.2"/><circle cx="466.2" cy="217.2" r="2.5" fill="none" stroke="#e30c11" stroke-width="1.2"/><circle cx="472.5" cy="216.2" r="2.5" fill="none" stroke="#bb0419" stroke-width="1.2"/><circle cx="467.4" cy="223.9" r="2.5" fill="none" stroke="#d00815" stroke-width="1.2"/><circle cx="445.8" cy="222.3" r="2.5" fill="none" stroke="#d40914" stroke-width="1.2"/><circle cx="470.4" cy="212.6" r="2.5" fill="none" stroke="#c60617" stroke-width="1.2"/><circle cx="460.7" cy="217.2" r="2.5" fill="none" stroke="#b5031a" stroke-width="1.2"/><circle cx="466.8" cy="223.9" r="2.5" fill="none" stroke="#d00815" stroke-width="1.2"/><circle cx="470.5" cy="221.9" r="2.5" fill="none" stroke="#e20c11" stroke-width="1.2"/><circle cx="445.2" cy="222.3" r="2.5" fill="none" stroke="#af021b" stroke-width="1.2"/><circle cx="468" cy="222.1" r="2.5" fill="none" stroke="#c00518" stroke-width="1.2"/><circle cx="460.3" cy="223.6" r="2.5" fill="none" stroke="#d40914" stroke-width="1.2"/><circle cx="479.2" cy="213.3" r="2.5" fill="none" stroke="#c10518" stroke-width="1.2"/><circle cx="473.3" cy="212.7" r="2.5" fill="none" stroke="#cf0815" stroke-width="1.2"/><circle cx="450.8" cy="213.1" r="2.5" fill="none" stroke="#b7031a" stroke-width="1.2"/><circle cx="448.2" cy="219.3" r="2.5" fill="none" stroke="#640c6b" stroke-width="1.2"/><circle cx="473.3" cy="219.5" r="2.5" fill="none" stroke="#ae011c" stroke-width="1.2"/><circle cx="451.6" cy="213.9" r="2.5" fill="none" stroke="#e10c11" stroke-width="1.2"/><circle cx="443.1" cy="219.8" r="2.5" fill="none" stroke="#cc0716" stroke-width="1.2"/><circle cx="448.2" cy="221.5" r="2.5" fill="none" stroke="#a4001e" stroke-width="1.2"/><circle cx="443.1" cy="216.2" r="2.5" fill="none" stroke="#da0a13" stroke-width="1.2"/><circle cx="477.3" cy="216.7" r="2.5" fill="none" stroke="#66188e" stroke-width="1.2"/><circle cx="456.8" cy="221" r="2.5" fill="none" stroke="#5825ca" stroke-width="1.2"/><circle cx="456.3" cy="220.5" r="2.5" fill="none" stroke="#df0b12" stroke-width="1.2"/><circle cx="446.8" cy="214.9" r="2.5" fill="none" stroke="#9d0125" stroke-width="1.2"/><circle cx="452.2" cy="222.3" r="2.5" fill="none" stroke="#d50914" stroke-width="1.2"/><circle cx="456.8" cy="212.9" r="2.5" fill="none" stroke="#a6001d" stroke-width="1.2"/><circle cx="466.3" cy="213.6" r="2.5" fill="none" stroke="#5f26c4" stroke-width="1.2"/><circle cx="469.6" cy="224" r="2.5" fill="none" stroke="#c10518" stroke-width="1.2"/><circle cx="470.8" cy="217.7" r="2.5" fill="none" stroke="#df0b12" stroke-width="1.2"/><circle cx="477.3" cy="223.5" r="2.5" fill="none" stroke="#c90716" stroke-width="1.2"/><circle cx="454" cy="216.3" r="2.5" fill="none" stroke="#661688" stroke-width="1.2"/><circle cx="467.3" cy="222" r="2.5" fill="none" stroke="#c50617" stroke-width="1.2"/><circle cx="449.2" cy="223.3" r="2.5" fill="none" stroke="#9f0023" stroke-width="1.2"/><circle cx="461.4" cy="222.8" r="2.5" fill="none" stroke="#1c1cd9" stroke-width="1.2"/><circle cx="459.6" cy="223.4" r="2.5" fill="none" stroke="#dc0b12" stroke-width="1.2"/><circle cx="455.7" cy="223.8" r="2.5" fill="none" stroke="#d00815" stroke-width="1.2"/><circle cx="464.1" cy="214.1" r="2.5" fill="none" stroke="#c40617" stroke-width="1.2"/><circle cx="458.3" cy="219.3" r="2.5" fill="none" stroke="#ca0716" stroke-width="1.2"/><circle cx="445.3" cy="222.2" r="2.5" fill="none" stroke="#640b69" stroke-width="1.2"/><circle cx="461.6" cy="217.9" r="2.5" fill="none" stroke="#d30914" stroke-width="1.2"/><circle cx="453" cy="222.5" r="2.5" fill="none" stroke="#c20518" stroke-width="1.2"/><circle cx="478.3" cy="214.7" r="2.5" fill="none" stroke="#e10c11" stroke-width="1.2"/><circle cx="444.2" cy="216.8" r="2.5" fill="none" stroke="#c00518" stroke-width="1.2"/><circle cx="464.7" cy="224.2" r="2.5" fill="none" stroke="#9e0125" stroke-width="1.2"/><circle cx="473.5" cy="214.6" r="2.5" fill="none" stroke="#651585" stroke-width="1.2"/><circle cx="447" cy="223.3" r="2.5" fill="none" stroke="#b0021b" stroke-width="1.2"/><circle cx="477.8" cy="216.6" r="2.5" fill="none" stroke="#aa011c" stroke-width="1.2"/><circle cx="459.9" cy="219" r="2.5" fill="none" stroke="#a8001d" stroke-width="1.2"/><circle cx="451.6" cy="213.5" r="2.5" fill="none" stroke="#cc0716" stroke-width="1.2"/><circle cx="447.7" cy="222.5" r="2.5" fill="none" stroke="#af021b" stroke-width="1.2"/><circle cx="447.1" cy="223.9" r="2.5" fill="none" stroke="#b7031a" stroke-width="1.2"/><circle cx="457.4" cy="222.7" r="2.5" fill="none" stroke="#e20c11" stroke-width="1.2"/><circle cx="454.2" cy="220.1" r="2.5" fill="none" stroke="#4d24d1" stroke-width="1.2"/><circle cx="475.7" cy="220" r="2.5" fill="none" stroke="#d00815" stroke-width="1.2"/><circle cx="478.5" cy="216.8" r="2.5" fill="none" stroke="#e10c11" stroke-width="1.2"/><circle cx="461.4" cy="217.3" r="2.5" fill="none" stroke="#d00815" stroke-width="1.2"/><circle cx="467.7" cy="213.4" r="2.5" fill="none" stroke="#e00b12" stroke-width="1.2"/><circle cx="455.5" cy="220.6" r="2.5" fill="none" stroke="#d40914" stroke-width="1.2"/><circle cx="472.5" cy="216.3" r="2.5" fill="none" stroke="#d40914" stroke-width="1.2"/><circle cx="478.9" cy="221.9" r="2.5" fill="none" stroke="#d20914" stroke-width="1.2"/><circle cx="451.2" cy="216" r="2.5" fill="none" stroke="#9c0127" stroke-width="1.2"/><circle cx="461.3" cy="223" r="2.5" fill="none" stroke="#c40617" stroke-width="1.2"/><circle cx="467.6" cy="213.1" r="2.5" fill="none" stroke="#c50617" stroke-width="1.2"/><circle cx="450.9" cy="212.6" r="2.5" fill="none" stroke="#df0b12" stroke-width="1.2"/><circle cx="445.2" cy="221" r="2.5" fill="none" stroke="#a10021" stroke-width="1.2"/><circle cx="470.1" cy="212.2" r="2.5" fill="none" stroke="#661b97" stroke-width="1.2"/><circle cx="449.9" cy="213.3" r="2.5" fill="none" stroke="#e10c11" stroke-width="1.2"/><circle cx="467.6" cy="221.1" r="2.5" fill="none" stroke="#ca0716" stroke-width="1.2"/><circle cx="449.3" cy="224.2" r="2.5" fill="none" stroke="#c90716" stroke-width="1.2"/><circle cx="478.4" cy="223.6" r="2.5" fill="none" stroke="#65127c" stroke-width="1.2"/><circle cx="456.2" cy="215.1" r="2.5" fill="none" stroke="#c30617" stroke-width="1.2"/><circle cx="444.8" cy="220" r="2.5" fill="none" stroke="#9e0024" stroke-width="1.2"/><circle cx="450.1" cy="221.3" r="2.5" fill="none" stroke="#e10c11" stroke-width="1.2"/><circle cx="458.2" cy="215.2" r="2.5" fill="none" stroke="#e00b12" stroke-width="1.2"/><circle cx="444.3" cy="224" r="2.5" fill="none" stroke="#651587" stroke-width="1.2"/><circle cx="470.6" cy="213.9" r="2.5" fill="none" stroke="#cf0815" stroke-width="1.2"/><circle cx="478.4" cy="218.1" r="2.5" fill="none" stroke="#ad011c" stroke-width="1.2"/><circle cx="427.2" cy="222.5" r="2.5" fill="none" stroke="#ff680a" stroke-width="1.2"/><circle cx="442.8" cy="218.1" r="2.2" fill="#f72611" stroke="#ea0d10" stroke-width="1"/><circle cx="424.1" cy="221.3" r="2.5" fill="none" stroke="#f72511" stroke-width="1.2"/><circle cx="429.5" cy="222.6" r="2.5" fill="none" stroke="#ff4d10" stroke-width="1.2"/><circle cx="443.1" cy="223" r="2.5" fill="none" stroke="#fc3313" stroke-width="1.2"/><circle cx="440.8" cy="216.3" r="2.5" fill="none" stroke="#ff4212" stroke-width="1.2"/><circle cx="427.3" cy="221.8" r="2.5" fill="none" stroke="#fc3513" stroke-width="1.2"/><circle cx="422.5" cy="219.4" r="2.5" fill="none" stroke="#ff590d" stroke-width="1.2"/><circle cx="412.3" cy="222.9" r="2.5" fill="none" stroke="#ff540e" stroke-width="1.2"/><circle cx="442.1" cy="213.4" r="2.5" fill="none" stroke="#ff580d" stroke-width="1.2"/><circle cx="417.2" cy="222.2" r="2.5" fill="none" stroke="#ff3c13" stroke-width="1.2"/><circle cx="424.1" cy="221.8" r="2.5" fill="none" stroke="#ff4112" stroke-width="1.2"/><circle cx="439.1" cy="215.3" r="2.5" fill="none" stroke="#ff3f13" stroke-width="1.2"/><circle cx="441.1" cy="222" r="2.5" fill="none" stroke="#ff4511" stroke-width="1.2"/><circle cx="438.9" cy="222.8" r="2.5" fill="none" stroke="#ff590d" stroke-width="1.2"/><circle cx="420.4" cy="218.9" r="2.5" fill="none" stroke="#ff4412" stroke-width="1.2"/><circle cx="429.8" cy="214.4" r="2.5" fill="none" stroke="#ff4911" stroke-width="1.2"/><circle cx="440.4" cy="217.9" r="2.5" fill="none" stroke="#f62111" stroke-width="1.2"/><circle cx="432.2" cy="215.8" r="2.5" fill="none" stroke="#fb3012" stroke-width="1.2"/><circle cx="412.9" cy="223.6" r="2.5" fill="none" stroke="#ff610b" stroke-width="1.2"/><circle cx="444.6" cy="218.7" r="2.5" fill="none" stroke="#f82711" stroke-width="1.2"/><circle cx="441.7" cy="220.3" r="2.5" fill="none" stroke="#ff580d" stroke-width="1.2"/><circle cx="443.6" cy="223.6" r="2.5" fill="none" stroke="#ff4312" stroke-width="1.2"/><circle cx="423.4" cy="222.2" r="2.5" fill="none" stroke="#ff600b" stroke-width="1.2"/><circle cx="424.9" cy="220.1" r="2.5" fill="none" stroke="#ff3f13" stroke-width="1.2"/><circle cx="409.2" cy="223.6" r="2.5" fill="none" stroke="#ff3e13" stroke-width="1.2"/><circle cx="427" cy="223.1" r="2.5" fill="none" stroke="#fc3413" stroke-width="1.2"/><circle cx="414.9" cy="224" r="2.5" fill="none" stroke="#ff500f" stroke-width="1.2"/><circle cx="436.5" cy="223.7" r="2.5" fill="none" stroke="#ff5e0c" stroke-width="1.2"/><circle cx="430.2" cy="222.2" r="2.5" fill="none" stroke="#ff550e" stroke-width="1.2"/><circle cx="427" cy="220" r="2.5" fill="none" stroke="#ff520f" stroke-width="1.2"/><circle cx="441.6" cy="213.2" r="2.5" fill="none" stroke="#ff520f" stroke-width="1.2"/><circle cx="438.6" cy="222.8" r="2.5" fill="none" stroke="#ff680a" stroke-width="1.2"/><circle cx="430.7" cy="216.3" r="2.5" fill="none" stroke="#ff4f0f" stroke-width="1.2"/><circle cx="431.8" cy="223.2" r="2.5" fill="none" stroke="#ff680a" stroke-width="1.2"/><circle cx="436.6" cy="214.5" r="2.5" fill="none" stroke="#ff630b" stroke-width="1.2"/><circle cx="429" cy="220.3" r="2.5" fill="none" stroke="#ff5f0c" stroke-width="1.2"/><circle cx="433.5" cy="214.3" r="2.5" fill="none" stroke="#ff620b" stroke-width="1.2"/><circle cx="440.4" cy="213.7" r="2.5" fill="none" stroke="#ff5c0c" stroke-width="1.2"/><circle cx="443.5" cy="213.5" r="2.2" fill="#ff4a10" stroke="#fd3613" stroke-width="1"/><circle cx="443.1" cy="221" r="2.5" fill="none" stroke="#f92a12" stroke-width="1.2"/><circle cx="440.8" cy="223.2" r="2.5" fill="none" stroke="#fc3513" stroke-width="1.2"/><circle cx="430.1" cy="216.1" r="2.5" fill="none" stroke="#fb3112" stroke-width="1.2"/><circle cx="423.4" cy="222" r="2.5" fill="none" stroke="#ff4811" stroke-width="1.2"/><circle cx="418.8" cy="223.3" r="2.5" fill="none" stroke="#fe3a13" stroke-width="1.2"/><circle cx="413" cy="222.7" r="2.2" fill="#fd3713" stroke="#f41c10" stroke-width="1"/><circle cx="441.1" cy="223.5" r="2.5" fill="none" stroke="#ff4312" stroke-width="1.2"/><circle cx="436.2" cy="221.8" r="2.5" fill="none" stroke="#ff4e0f" stroke-width="1.2"/><circle cx="430.7" cy="218.2" r="2.5" fill="none" stroke="#ff4c10" stroke-width="1.2"/><circle cx="411" cy="222.9" r="2.5" fill="none" stroke="#ff4a10" stroke-width="1.2"/><circle cx="439.4" cy="216.2" r="2.5" fill="none" stroke="#ff4c10" stroke-width="1.2"/><circle cx="432.1" cy="223.6" r="2.5" fill="none" stroke="#ff600b" stroke-width="1.2"/><circle cx="416.9" cy="222.5" r="2.2" fill="#ff4811" stroke="#fc3413" stroke-width="1"/><circle cx="436.4" cy="223.8" r="2.5" fill="none" stroke="#fe3a13" stroke-width="1.2"/><circle cx="433.2" cy="224" r="2.5" fill="none" stroke="#ff4911" stroke-width="1.2"/><circle cx="443.8" cy="223.4" r="2.5" fill="none" stroke="#fa2e12" stroke-width="1.2"/><circle cx="438.7" cy="215.8" r="2.5" fill="none" stroke="#ff5c0c" stroke-width="1.2"/><circle cx="432.6" cy="213.8" r="2.5" fill="none" stroke="#f82811" stroke-width="1.2"/><circle cx="440" cy="214.2" r="2.5" fill="none" stroke="#ff640a" stroke-width="1.2"/><circle cx="439.3" cy="223.2" r="2.5" fill="none" stroke="#f92a12" stroke-width="1.2"/><circle cx="389" cy="221.5" r="2.5" fill="none" stroke="#b1021b" stroke-width="1.2"/><circle cx="392.5" cy="220.5" r="2.5" fill="none" stroke="#661b98" stroke-width="1.2"/><circle cx="396" cy="221.6" r="2.5" fill="none" stroke="#ff4b10" stroke-width="1.2"/><circle cx="399.5" cy="221" r="2.5" fill="none" stroke="#661b98" stroke-width="1.2"/><circle cx="403" cy="222.5" r="2.5" fill="none" stroke="#f00f0f" stroke-width="1.2"/><circle cx="406" cy="222" r="2.5" fill="none" stroke="#ff5a0d" stroke-width="1.2"/><circle cx="409" cy="221.8" r="2.5" fill="none" stroke="#661b98" stroke-width="1.2"/><circle cx="432" cy="214" r="2.5" fill="none" stroke="#1d1deb" stroke-width="1.2"/><circle cx="578.8" cy="222.1" r="2.5" fill="none" stroke="#661b98" stroke-width="1.2"/><circle cx="595.9" cy="222.8" r="2.5" fill="none" stroke="#661b98" stroke-width="1.2"/><circle cx="515.2" cy="222.8" r="2.5" fill="none" stroke="#1d1deb" stroke-width="1.2"/><circle cx="527.8" cy="222.2" r="2.5" fill="none" stroke="#1c1cc4" stroke-width="1.2"/><circle cx="503.5" cy="223.7" r="2.5" fill="none" stroke="#1a1aa8" stroke-width="1.2"/><circle cx="522.7" cy="222.6" r="2.5" fill="none" stroke="#f00f0f" stroke-width="1.2"/><circle cx="575.3" cy="222" r="2.5" fill="none" stroke="#661b98" stroke-width="1.2"/><circle cx="490.6" cy="223.5" r="2.5" fill="none" stroke="#f00f0f" stroke-width="1.2"/><circle cx="537.1" cy="222.8" r="2.5" fill="none" stroke="#1a1aa8" stroke-width="1.2"/><circle cx="586.5" cy="222" r="2.5" fill="none" stroke="#661b98" stroke-width="1.2"/><circle cx="557.4" cy="222.6" r="2.5" fill="none" stroke="#f00f0f" stroke-width="1.2"/><circle cx="527.7" cy="222.6" r="2.5" fill="none" stroke="#1d1deb" stroke-width="1.2"/><circle cx="551.4" cy="222.5" r="2.5" fill="none" stroke="#f00f0f" stroke-width="1.2"/><circle cx="494.4" cy="222.3" r="2.5" fill="none" stroke="#661b98" stroke-width="1.2"/><circle cx="570.5" cy="221.9" r="2.5" fill="none" stroke="#f00f0f" stroke-width="1.2"/><circle cx="544.4" cy="222.4" r="2.5" fill="none" stroke="#f00f0f" stroke-width="1.2"/><circle cx="552.4" cy="223.1" r="2.5" fill="none" stroke="#1d1deb" stroke-width="1.2"/><circle cx="569.3" cy="223.3" r="2.5" fill="none" stroke="#b1021b" stroke-width="1.2"/><circle cx="502.2" cy="223" r="2.5" fill="none" stroke="#1c1cc4" stroke-width="1.2"/><circle cx="533" cy="222.5" r="2.5" fill="none" stroke="#d00815" stroke-width="1.2"/><circle cx="500.2" cy="222.3" r="2.5" fill="none" stroke="#1a1aa8" stroke-width="1.2"/><circle cx="490.2" cy="221.9" r="2.5" fill="none" stroke="#661b98" stroke-width="1.2"/><circle cx="525.8" cy="222" r="2.5" fill="none" stroke="#1d1deb" stroke-width="1.2"/><circle cx="546.4" cy="222.6" r="2.5" fill="none" stroke="#1d1deb" stroke-width="1.2"/><circle cx="552.7" cy="222.2" r="2.5" fill="none" stroke="#661b98" stroke-width="1.2"/><circle cx="580.3" cy="222.1" r="2.5" fill="none" stroke="#d00815" stroke-width="1.2"/><circle cx="592.7" cy="222.3" r="2.5" fill="none" stroke="#b1021b" stroke-width="1.2"/><circle cx="536.8" cy="221.9" r="2.5" fill="none" stroke="#b1021b" stroke-width="1.2"/><circle cx="585.2" cy="223.4" r="2.5" fill="none" stroke="#1c1cc4" stroke-width="1.2"/><circle cx="578.3" cy="223.7" r="2.5" fill="none" stroke="#d00815" stroke-width="1.2"/><circle cx="550.3" cy="223.2" r="2.5" fill="none" stroke="#1c1cd8" stroke-width="1.2"/><circle cx="546.4" cy="223.2" r="2.5" fill="none" stroke="#6928be" stroke-width="1.2"/><circle cx="573.1" cy="222.7" r="2.5" fill="none" stroke="#1c1cc4" stroke-width="1.2"/><circle cx="512.9" cy="224" r="2.5" fill="none" stroke="#1d1deb" stroke-width="1.2"/><circle cx="541.5" cy="223.6" r="2.5" fill="none" stroke="#1c1cc4" stroke-width="1.2"/><circle cx="512.4" cy="221.9" r="2.5" fill="none" stroke="#1d1deb" stroke-width="1.2"/><circle cx="501" cy="223.2" r="2.5" fill="none" stroke="#1c1cc4" stroke-width="1.2"/><circle cx="511.1" cy="223.9" r="2.5" fill="none" stroke="#6928be" stroke-width="1.2"/><circle cx="550.1" cy="223" r="2.5" fill="none" stroke="#1a1aa8" stroke-width="1.2"/><circle cx="563.4" cy="223.9" r="2.5" fill="none" stroke="#1c1cd8" stroke-width="1.2"/><circle cx="505" cy="223" r="2.5" fill="none" stroke="#1c1cd8" stroke-width="1.2"/><circle cx="561.1" cy="222.7" r="2.5" fill="none" stroke="#1d1deb" stroke-width="1.2"/><circle cx="529.3" cy="223.5" r="2.5" fill="none" stroke="#1a1aa8" stroke-width="1.2"/><circle cx="506.3" cy="222.9" r="2.5" fill="none" stroke="#1c1cc4" stroke-width="1.2"/><circle cx="418" cy="181.9" r="2.5" fill="none" stroke="#ff540e" stroke-width="1.2"/><circle cx="445" cy="175.4" r="2.5" fill="none" stroke="#ff540e" stroke-width="1.2"/><circle cx="443.3" cy="182.4" r="2.5" fill="none" stroke="#69095d" stroke-width="1.2"/><circle cx="422.4" cy="192.3" r="2.5" fill="none" stroke="#ff540e" stroke-width="1.2"/><circle cx="434" cy="192.3" r="2.5" fill="none" stroke="#f31810" stroke-width="1.2"/><circle cx="445.9" cy="190.2" r="2.5" fill="none" stroke="#b1021b" stroke-width="1.2"/><circle cx="400.3" cy="197.2" r="2.5" fill="none" stroke="#661b98" stroke-width="1.2"/><circle cx="419.8" cy="200.7" r="2.5" fill="none" stroke="#ff4b10" stroke-width="1.2"/><circle cx="416.3" cy="204.1" r="2.5" fill="none" stroke="#ff3c14" stroke-width="1.2"/><circle cx="415.4" cy="205.9" r="2.5" fill="none" stroke="#ff3c14" stroke-width="1.2"/><circle cx="427.6" cy="204.1" r="2.5" fill="none" stroke="#f31810" stroke-width="1.2"/><circle cx="435.4" cy="204.7" r="2.5" fill="none" stroke="#f31810" stroke-width="1.2"/><circle cx="424.1" cy="207.6" r="2.5" fill="none" stroke="#661b98" stroke-width="1.2"/><circle cx="446.7" cy="198.9" r="2.5" fill="none" stroke="#f31810" stroke-width="1.2"/><circle cx="445.9" cy="202.4" r="2.5" fill="none" stroke="#f00f0f" stroke-width="1.2"/><circle cx="461.7" cy="191.2" r="2.5" fill="none" stroke="#ff540e" stroke-width="1.2"/><circle cx="447" cy="203" r="2.5" fill="none" stroke="#b1021b" stroke-width="1.2"/><circle cx="455.3" cy="203" r="2.5" fill="none" stroke="#69095d" stroke-width="1.2"/><circle cx="459.1" cy="206.2" r="2.5" fill="none" stroke="#661b98" stroke-width="1.2"/><circle cx="452.2" cy="206.5" r="2.5" fill="none" stroke="#661b98" stroke-width="1.2"/><circle cx="467.8" cy="206.9" r="2.5" fill="none" stroke="#f31810" stroke-width="1.2"/><circle cx="471.7" cy="206.2" r="2.5" fill="none" stroke="#1c1cd8" stroke-width="1.2"/><circle cx="480.3" cy="203.9" r="2.5" fill="none" stroke="#69095d" stroke-width="1.2"/><circle cx="488.3" cy="206.2" r="2.5" fill="none" stroke="#6928be" stroke-width="1.2"/><circle cx="442.6" cy="208.3" r="2.5" fill="none" stroke="#f00f0f" stroke-width="1.2"/><circle cx="455.7" cy="210" r="2.5" fill="none" stroke="#1c1cd8" stroke-width="1.2"/><circle cx="473" cy="213.5" r="2.5" fill="none" stroke="#f31810" stroke-width="1.2"/><circle cx="478.3" cy="213.5" r="2.5" fill="none" stroke="#930231" stroke-width="1.2"/><circle cx="494.8" cy="213.5" r="2.5" fill="none" stroke="#661b98" stroke-width="1.2"/><circle cx="392.7" cy="221.7" r="2.5" fill="none" stroke="#661b98" stroke-width="1.2"/><circle cx="397.1" cy="220" r="2.5" fill="none" stroke="#640f73" stroke-width="1.2"/><circle cx="413.6" cy="214" r="2.5" fill="none" stroke="#f00f0f" stroke-width="1.2"/><circle cx="522.2" cy="191" r="2.5" fill="none" stroke="#6928be" stroke-width="1.2"/><circle cx="518.3" cy="199.5" r="2.5" fill="none" stroke="#6928be" stroke-width="1.2"/><circle cx="524.3" cy="202.6" r="2.5" fill="none" stroke="#6928be" stroke-width="1.2"/><circle cx="524.8" cy="211" r="2.5" fill="none" stroke="#1c1cd8" stroke-width="1.2"/><circle cx="494.7" cy="215.5" r="2.5" fill="none" stroke="#6928be" stroke-width="1.2"/><circle cx="489.3" cy="216.4" r="2.5" fill="none" stroke="#1c1cd8" stroke-width="1.2"/><circle cx="477.8" cy="215.5" r="2.5" fill="none" stroke="#750750" stroke-width="1.2"/><circle cx="484" cy="217.3" r="2.5" fill="none" stroke="#661b98" stroke-width="1.2"/><circle cx="512.4" cy="219" r="2.5" fill="none" stroke="#6928be" stroke-width="1.2"/><circle cx="528.4" cy="217.3" r="2.5" fill="none" stroke="#6928be" stroke-width="1.2"/><circle cx="532" cy="220" r="2.5" fill="none" stroke="#4923d4" stroke-width="1.2"/><circle cx="545.5" cy="183.2" r="2.5" fill="none" stroke="#750750" stroke-width="1.2"/><circle cx="555.4" cy="195.6" r="2.5" fill="none" stroke="#4923d4" stroke-width="1.2"/><circle cx="551" cy="201" r="2.5" fill="none" stroke="#6928be" stroke-width="1.2"/><circle cx="562.5" cy="216.4" r="2.5" fill="none" stroke="#1c1cc4" stroke-width="1.2"/><circle cx="566.4" cy="219" r="2.5" fill="none" stroke="#1c1cc4" stroke-width="1.2"/><circle cx="546.9" cy="220" r="2.5" fill="none" stroke="#1c1cd8" stroke-width="1.2"/><circle cx="535.3" cy="219" r="2.5" fill="none" stroke="#6928be" stroke-width="1.2"/><circle cx="553.1" cy="221.7" r="2.5" fill="none" stroke="#1c1cc4" stroke-width="1.2"/><circle cx="561" cy="221.7" r="2.5" fill="none" stroke="#1c1cd8" stroke-width="1.2"/><circle cx="577" cy="222.6" r="2.5" fill="none" stroke="#1c1cc4" stroke-width="1.2"/><circle cx="540.7" cy="222.6" r="2.5" fill="none" stroke="#6928be" stroke-width="1.2"/><circle cx="589.5" cy="219" r="2.5" fill="none" stroke="#1c1cc4" stroke-width="1.2"/><circle cx="566.7" cy="222.6" r="2.5" fill="none" stroke="#1c1cc4" stroke-width="1.2"/><circle cx="572" cy="223.5" r="2.5" fill="none" stroke="#1c1cc4" stroke-width="1.2"/><circle cx="577.7" cy="223.5" r="2.5" fill="none" stroke="#1c1cd8" stroke-width="1.2"/><circle cx="592.4" cy="218.2" r="2.5" fill="none" stroke="#1c1cc4" stroke-width="1.2"/><circle cx="595.4" cy="223" r="2.5" fill="none" stroke="#1c1cc4" stroke-width="1.2"/><ellipse cx="401.8" cy="54.6" rx="2.5" ry="2.15" fill="#ff690a" stroke="#ff5a0d" stroke-width="1"/><ellipse cx="403.5" cy="83.4" rx="2.5" ry="2.15" fill="#ff690a" stroke="#ff5a0d" stroke-width="1"/><ellipse cx="376.6" cy="117.9" rx="2.5" ry="2.15" fill="#ff690a" stroke="#ff5a0d" stroke-width="1"/><ellipse cx="382.3" cy="121.2" rx="2.5" ry="2.15" fill="#ff5a0d" stroke="#ff4b10" stroke-width="1"/><ellipse cx="387.9" cy="119.7" rx="2.5" ry="2.15" fill="#ff3c14" stroke="#f72511" stroke-width="1"/><ellipse cx="419.7" cy="116.9" rx="2.5" ry="2.15" fill="#ff690a" stroke="#ff5a0d" stroke-width="1"/><ellipse cx="397.8" cy="138.4" rx="2.5" ry="2.15" fill="#ff690a" stroke="#ff5a0d" stroke-width="1"/><ellipse cx="405" cy="137" rx="2.5" ry="2.15" fill="#ff690a" stroke="#ff5a0d" stroke-width="1"/><ellipse cx="417.4" cy="141.8" rx="2.5" ry="2.15" fill="#ff600c" stroke="#ff510f" stroke-width="1"/><ellipse cx="421.2" cy="146.5" rx="2.5" ry="2.15" fill="#ff600c" stroke="#ff510f" stroke-width="1"/><ellipse cx="393.4" cy="149.5" rx="2.5" ry="2.15" fill="#f41c10" stroke="#e30c11" stroke-width="1"/><ellipse cx="409" cy="152.3" rx="2.5" ry="2.15" fill="#ff690a" stroke="#ff5a0d" stroke-width="1"/><ellipse cx="408" cy="158.6" rx="2.5" ry="2.15" fill="#ff690a" stroke="#ff5a0d" stroke-width="1"/><ellipse cx="401.9" cy="160" rx="2.5" ry="2.15" fill="#ff600c" stroke="#ff510f" stroke-width="1"/><ellipse cx="420.4" cy="158" rx="2.5" ry="2.15" fill="#ff690a" stroke="#ff5a0d" stroke-width="1"/><ellipse cx="416.8" cy="164" rx="2.5" ry="2.15" fill="#ff5a0d" stroke="#ff4b10" stroke-width="1"/><ellipse cx="395.1" cy="167.4" rx="2.5" ry="2.15" fill="#ff690a" stroke="#ff5a0d" stroke-width="1"/><ellipse cx="401" cy="172.3" rx="2.5" ry="2.15" fill="#ff690a" stroke="#ff5a0d" stroke-width="1"/><ellipse cx="402.4" cy="177.5" rx="2.5" ry="2.15" fill="#ff690a" stroke="#ff5a0d" stroke-width="1"/><ellipse cx="417.2" cy="165" rx="2.5" ry="2.15" fill="#ff690a" stroke="#ff5a0d" stroke-width="1"/><ellipse cx="397.2" cy="185" rx="2.5" ry="2.15" fill="#ff690a" stroke="#ff5a0d" stroke-width="1"/><ellipse cx="411.4" cy="181.2" rx="2.5" ry="2.15" fill="#ff600c" stroke="#ff510f" stroke-width="1"/><ellipse cx="425.3" cy="176.8" rx="2.5" ry="2.15" fill="#ff600c" stroke="#ff510f" stroke-width="1"/><ellipse cx="432.8" cy="182.4" rx="2.5" ry="2.15" fill="#ff5a0d" stroke="#ff4b10" stroke-width="1"/><ellipse cx="440.7" cy="176.3" rx="2.5" ry="2.15" fill="#ff5a0d" stroke="#ff4b10" stroke-width="1"/><ellipse cx="425.3" cy="186.7" rx="2.5" ry="2.15" fill="#ff3c14" stroke="#f72511" stroke-width="1"/><ellipse cx="398.9" cy="192.8" rx="2.5" ry="2.15" fill="#f41c10" stroke="#e30c11" stroke-width="1"/><ellipse cx="430.6" cy="193.2" rx="2.5" ry="2.15" fill="#ff5a0d" stroke="#ff4b10" stroke-width="1"/><ellipse cx="442.4" cy="186.7" rx="2.5" ry="2.15" fill="#ff5a0d" stroke="#ff4b10" stroke-width="1"/><ellipse cx="414.2" cy="197.2" rx="2.5" ry="2.15" fill="#ff600c" stroke="#ff510f" stroke-width="1"/><ellipse cx="406.7" cy="204.1" rx="2.5" ry="2.15" fill="#ff600c" stroke="#ff510f" stroke-width="1"/><ellipse cx="400.7" cy="209.9" rx="2.5" ry="2.15" fill="#ff600c" stroke="#ff510f" stroke-width="1"/><ellipse cx="429.3" cy="199.8" rx="2.5" ry="2.15" fill="#ff540e" stroke="#ff4512" stroke-width="1"/><ellipse cx="408.4" cy="212.2" rx="2.5" ry="2.15" fill="#ff690a" stroke="#ff5a0d" stroke-width="1"/></g>
<defs><clipPath id="clipb"><rect x="370.8" y="21.3" width="243.49999999999994" height="203.2"/></clipPath></defs>
<rect x="370.8" y="21.3" width="243.49999999999994" height="203.2" fill="none" stroke="#111" stroke-width="1.4"/>
<path d="M370.8,224.5h5M614.3,224.5h-5M370.8,217.7h2.5M614.3,217.7h-2.5M370.8,211h2.5M614.3,211h-2.5M370.8,204.2h2.5M614.3,204.2h-2.5M370.8,197.4h2.5M614.3,197.4h-2.5M370.8,190.6h5M614.3,190.6h-5M370.8,183.9h2.5M614.3,183.9h-2.5M370.8,177.1h2.5M614.3,177.1h-2.5M370.8,170.3h2.5M614.3,170.3h-2.5M370.8,163.5h2.5M614.3,163.5h-2.5M370.8,156.8h5M614.3,156.8h-5M370.8,150h2.5M614.3,150h-2.5M370.8,143.2h2.5M614.3,143.2h-2.5M370.8,136.4h2.5M614.3,136.4h-2.5M370.8,129.7h2.5M614.3,129.7h-2.5M370.8,122.9h5M614.3,122.9h-5M370.8,116.1h2.5M614.3,116.1h-2.5M370.8,109.4h2.5M614.3,109.4h-2.5M370.8,102.6h2.5M614.3,102.6h-2.5M370.8,95.8h2.5M614.3,95.8h-2.5M370.8,89h5M614.3,89h-5M370.8,82.3h2.5M614.3,82.3h-2.5M370.8,75.5h2.5M614.3,75.5h-2.5M370.8,68.7h2.5M614.3,68.7h-2.5M370.8,61.9h2.5M614.3,61.9h-2.5M370.8,55.2h5M614.3,55.2h-5M370.8,48.4h2.5M614.3,48.4h-2.5M370.8,41.6h2.5M614.3,41.6h-2.5M370.8,34.8h2.5M614.3,34.8h-2.5M370.8,28.1h2.5M614.3,28.1h-2.5M370.8,21.3h5M614.3,21.3h-5M370.8,224.5v-4M370.8,21.3v4M374.3,224.5v-1.6M374.3,21.3v1.6M377.8,224.5v-1.6M377.8,21.3v1.6M381.2,224.5v-1.6M381.2,21.3v1.6M384.7,224.5v-1.6M384.7,21.3v1.6M388.2,224.5v-1.6M388.2,21.3v1.6M391.7,224.5v-1.6M391.7,21.3v1.6M395.2,224.5v-1.6M395.2,21.3v1.6M398.6,224.5v-1.6M398.6,21.3v1.6M402.1,224.5v-1.6M402.1,21.3v1.6M405.6,224.5v-4M405.6,21.3v4M409.1,224.5v-1.6M409.1,21.3v1.6M412.5,224.5v-1.6M412.5,21.3v1.6M416,224.5v-1.6M416,21.3v1.6M419.5,224.5v-1.6M419.5,21.3v1.6M423,224.5v-1.6M423,21.3v1.6M426.5,224.5v-1.6M426.5,21.3v1.6M429.9,224.5v-1.6M429.9,21.3v1.6M433.4,224.5v-1.6M433.4,21.3v1.6M436.9,224.5v-1.6M436.9,21.3v1.6M440.4,224.5v-4M440.4,21.3v4M443.9,224.5v-1.6M443.9,21.3v1.6M447.3,224.5v-1.6M447.3,21.3v1.6M450.8,224.5v-1.6M450.8,21.3v1.6M454.3,224.5v-1.6M454.3,21.3v1.6M457.8,224.5v-1.6M457.8,21.3v1.6M461.2,224.5v-1.6M461.2,21.3v1.6M464.7,224.5v-1.6M464.7,21.3v1.6M468.2,224.5v-1.6M468.2,21.3v1.6M471.7,224.5v-1.6M471.7,21.3v1.6M475.2,224.5v-4M475.2,21.3v4M478.6,224.5v-1.6M478.6,21.3v1.6M482.1,224.5v-1.6M482.1,21.3v1.6M485.6,224.5v-1.6M485.6,21.3v1.6M489.1,224.5v-1.6M489.1,21.3v1.6M492.5,224.5v-1.6M492.5,21.3v1.6M496,224.5v-1.6M496,21.3v1.6M499.5,224.5v-1.6M499.5,21.3v1.6M503,224.5v-1.6M503,21.3v1.6M506.5,224.5v-1.6M506.5,21.3v1.6M509.9,224.5v-4M509.9,21.3v4M513.4,224.5v-1.6M513.4,21.3v1.6M516.9,224.5v-1.6M516.9,21.3v1.6M520.4,224.5v-1.6M520.4,21.3v1.6M523.9,224.5v-1.6M523.9,21.3v1.6M527.3,224.5v-1.6M527.3,21.3v1.6M530.8,224.5v-1.6M530.8,21.3v1.6M534.3,224.5v-1.6M534.3,21.3v1.6M537.8,224.5v-1.6M537.8,21.3v1.6M541.2,224.5v-1.6M541.2,21.3v1.6M544.7,224.5v-4M544.7,21.3v4M548.2,224.5v-1.6M548.2,21.3v1.6M551.7,224.5v-1.6M551.7,21.3v1.6M555.2,224.5v-1.6M555.2,21.3v1.6M558.6,224.5v-1.6M558.6,21.3v1.6M562.1,224.5v-1.6M562.1,21.3v1.6M565.6,224.5v-1.6M565.6,21.3v1.6M569.1,224.5v-1.6M569.1,21.3v1.6M572.6,224.5v-1.6M572.6,21.3v1.6M576,224.5v-1.6M576,21.3v1.6M579.5,224.5v-4M579.5,21.3v4M583,224.5v-1.6M583,21.3v1.6M586.5,224.5v-1.6M586.5,21.3v1.6M589.9,224.5v-1.6M589.9,21.3v1.6M593.4,224.5v-1.6M593.4,21.3v1.6M596.9,224.5v-1.6M596.9,21.3v1.6M600.4,224.5v-1.6M600.4,21.3v1.6M603.9,224.5v-1.6M603.9,21.3v1.6M607.3,224.5v-1.6M607.3,21.3v1.6M610.8,224.5v-1.6M610.8,21.3v1.6M614.3,224.5v-4M614.3,21.3v4" stroke="#111" stroke-width="1.1" fill="none"/>
<text transform="translate(365.4,226.6) scale(0.92,1)" font-size="11.3" text-anchor="end" stroke="#111" stroke-width="0.25">0</text>
<text transform="translate(365.4,160.7) scale(0.92,1)" font-size="11.3" text-anchor="end" stroke="#111" stroke-width="0.25">10</text>
<text transform="translate(365.4,94.6) scale(0.92,1)" font-size="11.3" text-anchor="end" stroke="#111" stroke-width="0.25">20</text>
<text transform="translate(365.4,28.6) scale(0.92,1)" font-size="11.3" text-anchor="end" stroke="#111" stroke-width="0.25">30</text>
<text transform="translate(368.2,240.2) scale(0.92,1)" font-size="11.3" text-anchor="middle" stroke="#111" stroke-width="0.25">-1</text>
<text transform="translate(404.6,240.2) scale(0.92,1)" font-size="11.3" text-anchor="middle" stroke="#111" stroke-width="0.25">0</text>
<text transform="translate(437,240.2) scale(0.92,1)" font-size="11.3" text-anchor="middle" stroke="#111" stroke-width="0.25">1</text>
<text transform="translate(471.5,240.2) scale(0.92,1)" font-size="11.3" text-anchor="middle" stroke="#111" stroke-width="0.25">2</text>
<text transform="translate(507,240.2) scale(0.92,1)" font-size="11.3" text-anchor="middle" stroke="#111" stroke-width="0.25">3</text>
<text transform="translate(542.8,240.2) scale(0.92,1)" font-size="11.3" text-anchor="middle" stroke="#111" stroke-width="0.25">4</text>
<text transform="translate(577.7,240.2) scale(0.92,1)" font-size="11.3" text-anchor="middle" stroke="#111" stroke-width="0.25">5</text>
<text transform="translate(610,240.2) scale(0.92,1)" font-size="11.3" text-anchor="middle" stroke="#111" stroke-width="0.25">6</text>
<text transform="translate(466,254) scale(0.9,1)" font-size="12" stroke="#111" stroke-width="0.25">Δf<tspan font-size="8.5" dy="3">1,2</tspan><tspan dy="-3">/Δf</tspan><tspan font-size="8.5" dy="3">CRIT</tspan></text>
<text transform="translate(343.8,124.8) rotate(-90) scale(0.852,1)" font-size="13.3" text-anchor="middle" stroke="#111" stroke-width="0.25"><tspan font-style="italic">n=1 m</tspan>=even magnetic RMS amplitude [G]</text>
</svg></body></html>
